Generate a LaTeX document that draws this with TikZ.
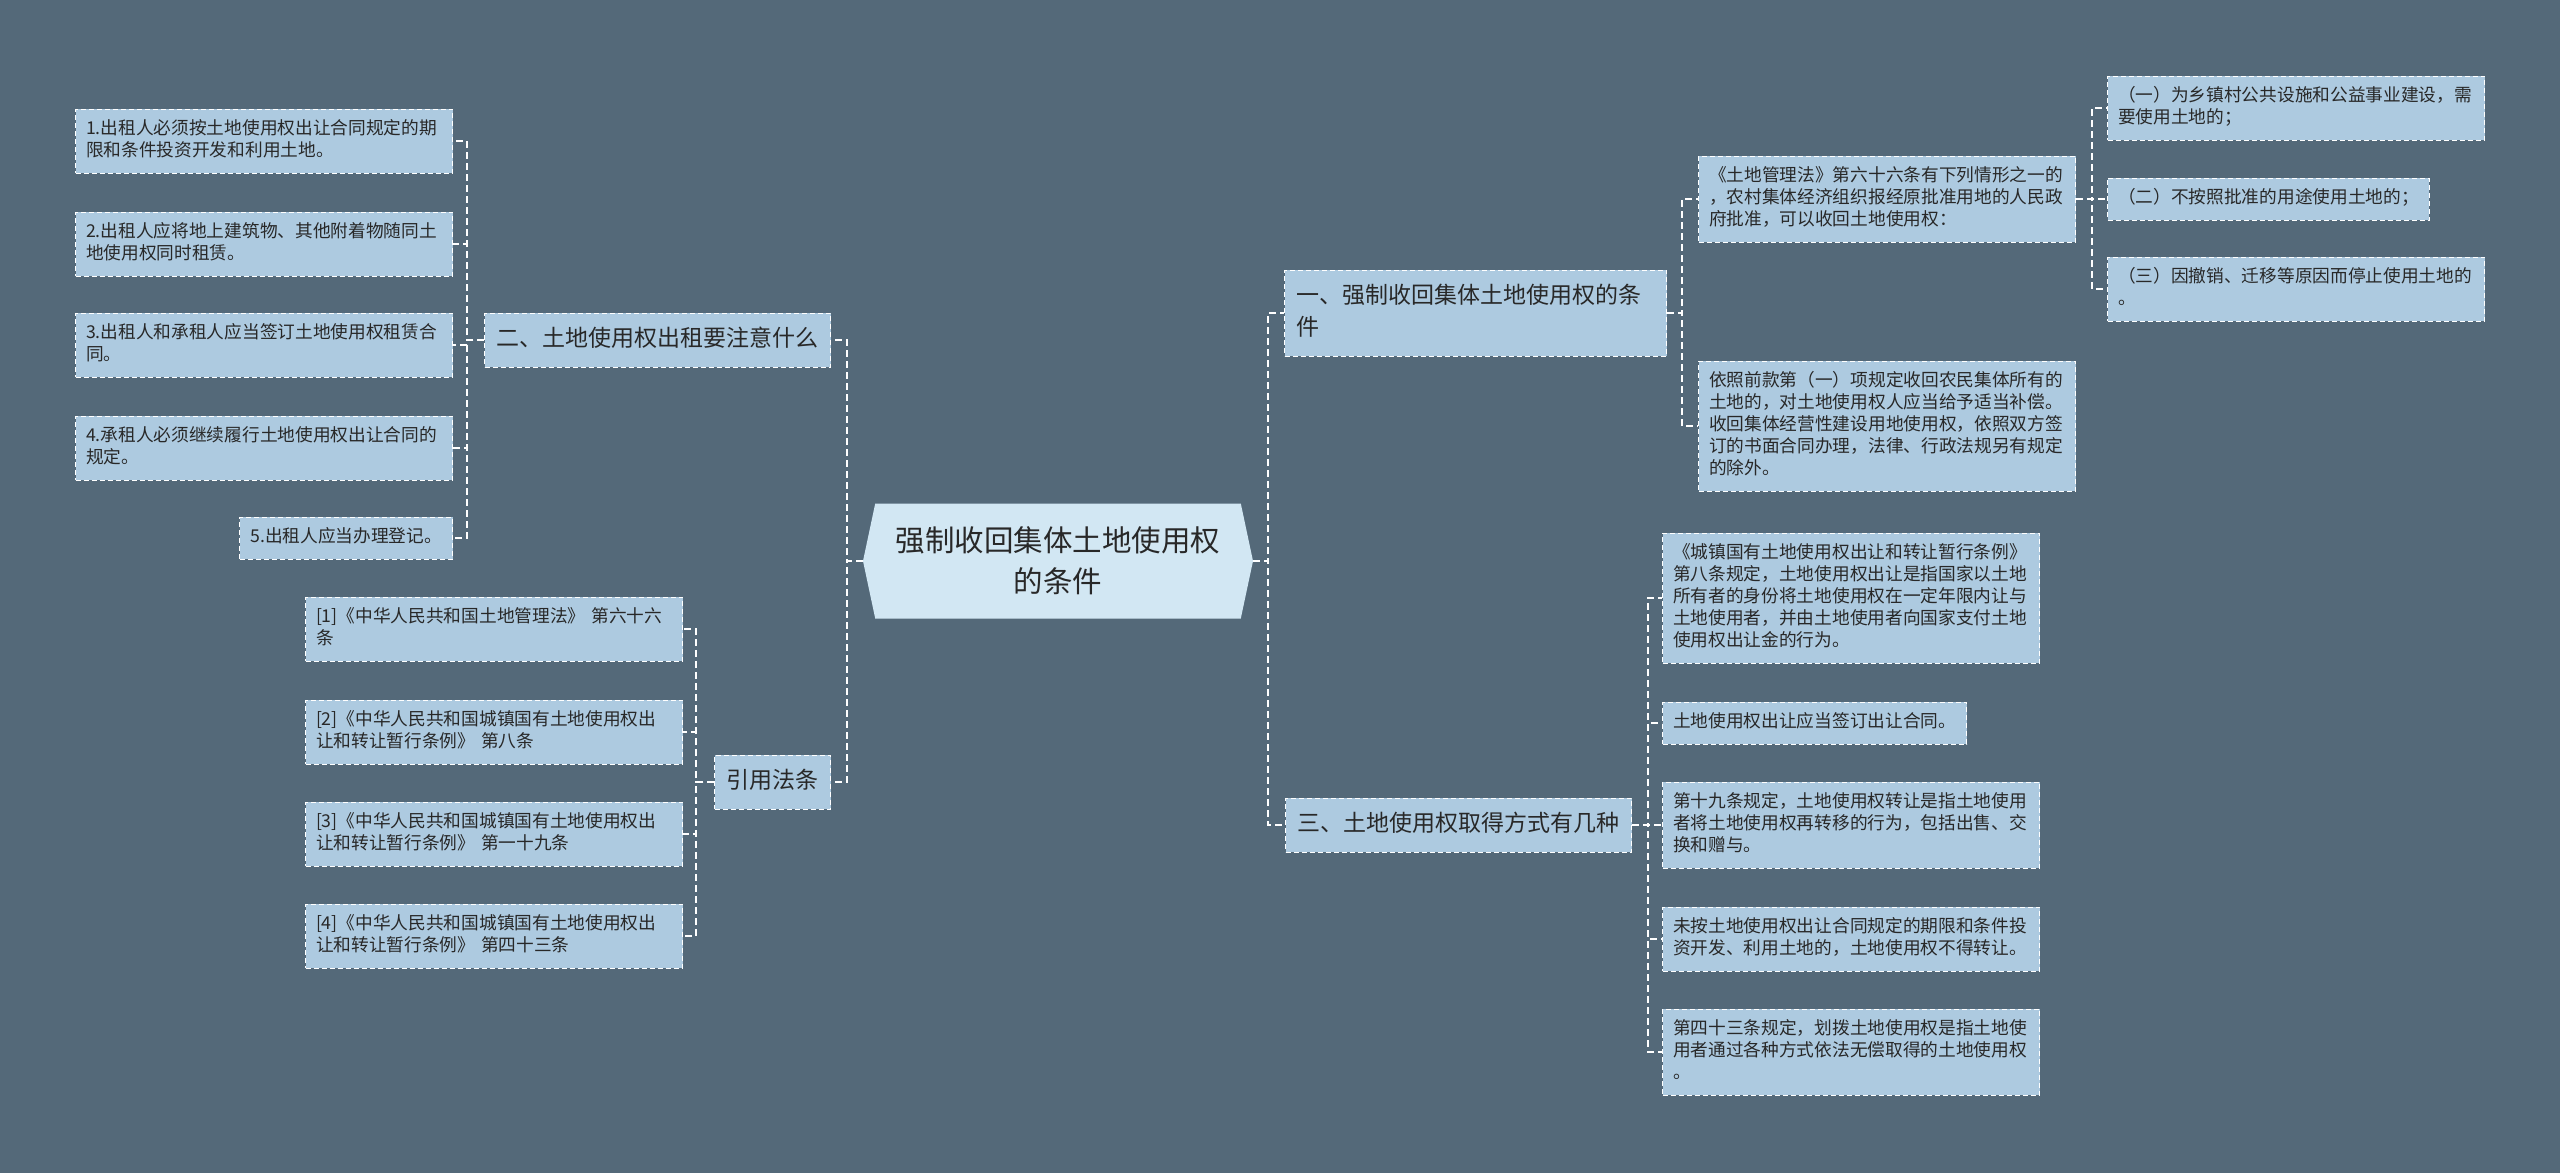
\documentclass[tikz,border=0pt]{standalone}
\usepackage{fontspec}
\setmainfont{Noto Sans CJK SC}
\usetikzlibrary{shapes.symbols, positioning, calc}
\definecolor{slate}{RGB}{84,105,121}
\definecolor{leaffill}{RGB}{173,202,224}
\definecolor{hubfill}{RGB}{210,231,243}
\definecolor{inktext}{RGB}{40,40,40}

\begin{document}
\begin{tikzpicture}[
        x=1pt, y=-1pt,
        hub/.style={signal, signal to=west and east, signal pointer angle=156, fill=hubfill, minimum width=390pt, minimum height=115pt, inner sep=0pt, align=center, text=inktext, font=\fontsize{29.5pt}{41pt}\selectfont},
        branch/.style={rectangle, draw=white, fill=leaffill, line width=1pt, dash pattern=on 5pt off 3pt, inner xsep=12pt, inner ysep=11pt, align=left, text=inktext, font=\fontsize{23pt}{32pt}\selectfont, execute at begin node=\strut, execute at end node=\strut},
        leaf/.style={rectangle, draw=white, fill=leaffill, line width=1pt, dash pattern=on 5pt off 3pt, inner xsep=10.5pt, inner ysep=10pt, align=left, text=inktext, font=\fontsize{17.7pt}{22pt}\selectfont, execute at begin node=\strut, execute at end node=\strut},
        wideleaf/.style={leaf, text width=356pt},
        link/.style={draw=white, line width=1.5pt, dash pattern=on 7pt off 4pt}
    ]
        \fill[slate] (0,0) rectangle (2560,1173);
        \useasboundingbox (0,0) rectangle (2560,1173);

        % centre
        \node[hub] (main) at (1058,561) {强制收回集体土地使用权\\的条件};

        % left side
        \node[branch, anchor=east] (er) at (831,340) {二、土地使用权出租要注意什么};
        \node[branch, anchor=east] (yin) at (831,782) {引用法条};

        \node[wideleaf, anchor=east] (l1) at (453,141) {1.出租人必须按土地使用权出让合同规定的期\\限和条件投资开发和利用土地。};
        \node[wideleaf, anchor=east] (l2) at (453,244) {2.出租人应将地上建筑物、其他附着物随同土\\地使用权同时租赁。};
        \node[wideleaf, anchor=east] (l3) at (453,345) {3.出租人和承租人应当签订土地使用权租赁合\\同。};
        \node[wideleaf, anchor=east] (l4) at (453,448) {4.承租人必须继续履行土地使用权出让合同的\\规定。};
        \node[leaf, anchor=east] (l5) at (453,538) {5.出租人应当办理登记。};

        \node[wideleaf, anchor=east] (r1) at (683,629) {[1]《中华人民共和国土地管理法》 第六十六\\条};
        \node[wideleaf, anchor=east] (r2) at (683,732) {[2]《中华人民共和国城镇国有土地使用权出\\让和转让暂行条例》 第八条};
        \node[wideleaf, anchor=east] (r3) at (683,834) {[3]《中华人民共和国城镇国有土地使用权出\\让和转让暂行条例》 第一十九条};
        \node[wideleaf, anchor=east] (r4) at (683,936) {[4]《中华人民共和国城镇国有土地使用权出\\让和转让暂行条例》 第四十三条};

        % right side
        \node[branch, anchor=west, text width=358pt] (yi) at (1284,313) {一、强制收回集体土地使用权的条\\件};
        \node[branch, anchor=west] (san) at (1285,825) {三、土地使用权取得方式有几种};

        \node[wideleaf, anchor=west] (law) at (1698,199) {《土地管理法》第六十六条有下列情形之一的\\，农村集体经济组织报经原批准用地的人民政\\府批准，可以收回土地使用权：};
        \node[wideleaf, anchor=west] (comp) at (1698,426) {依照前款第（一）项规定收回农民集体所有的\\土地的，对土地使用权人应当给予适当补偿。\\收回集体经营性建设用地使用权，依照双方签\\订的书面合同办理，法律、行政法规另有规定\\的除外。};

        \node[wideleaf, anchor=west] (k1) at (2107,108) {（一）为乡镇村公共设施和公益事业建设，需\\要使用土地的；};
        \node[leaf, anchor=west] (k2) at (2107,199) {（二）不按照批准的用途使用土地的；};
        \node[wideleaf, anchor=west] (k3) at (2107,289) {（三）因撤销、迁移等原因而停止使用土地的\\。};

        \node[wideleaf, anchor=west] (s1) at (1662,598) {《城镇国有土地使用权出让和转让暂行条例》\\第八条规定，土地使用权出让是指国家以土地\\所有者的身份将土地使用权在一定年限内让与\\土地使用者，并由土地使用者向国家支付土地\\使用权出让金的行为。};
        \node[leaf, anchor=west] (s2) at (1662,723) {土地使用权出让应当签订出让合同。};
        \node[wideleaf, anchor=west] (s3) at (1662,825) {第十九条规定，土地使用权转让是指土地使用\\者将土地使用权再转移的行为，包括出售、交\\换和赠与。};
        \node[wideleaf, anchor=west] (s4) at (1662,939) {未按土地使用权出让合同规定的期限和条件投\\资开发、利用土地的，土地使用权不得转让。};
        \node[wideleaf, anchor=west] (s5) at (1662,1052) {第四十三条规定，划拨土地使用权是指土地使\\用者通过各种方式依法无偿取得的土地使用权\\。};

        % connectors
        \foreach \n in {er,yin} \draw[link] (main.west) -- ++(-16,0) |- (\n.east);
        \foreach \n in {yi,san} \draw[link] (main.east) -- ++(15,0) |- (\n.west);
        \foreach \n in {l1,l2,l3,l4,l5} \draw[link] (er.west) -- ++(-17,0) |- (\n.east);
        \foreach \n in {r1,r2,r3,r4} \draw[link] (yin.west) -- ++(-18,0) |- (\n.east);
        \foreach \n in {law,comp} \draw[link] (yi.east) -- ++(15,0) |- (\n.west);
        \foreach \n in {k1,k2,k3} \draw[link] (law.east) -- ++(16,0) |- (\n.west);
        \foreach \n in {s1,s2,s3,s4,s5} \draw[link] (san.east) -- ++(16,0) |- (\n.west);
    \end{tikzpicture}
\end{document}
